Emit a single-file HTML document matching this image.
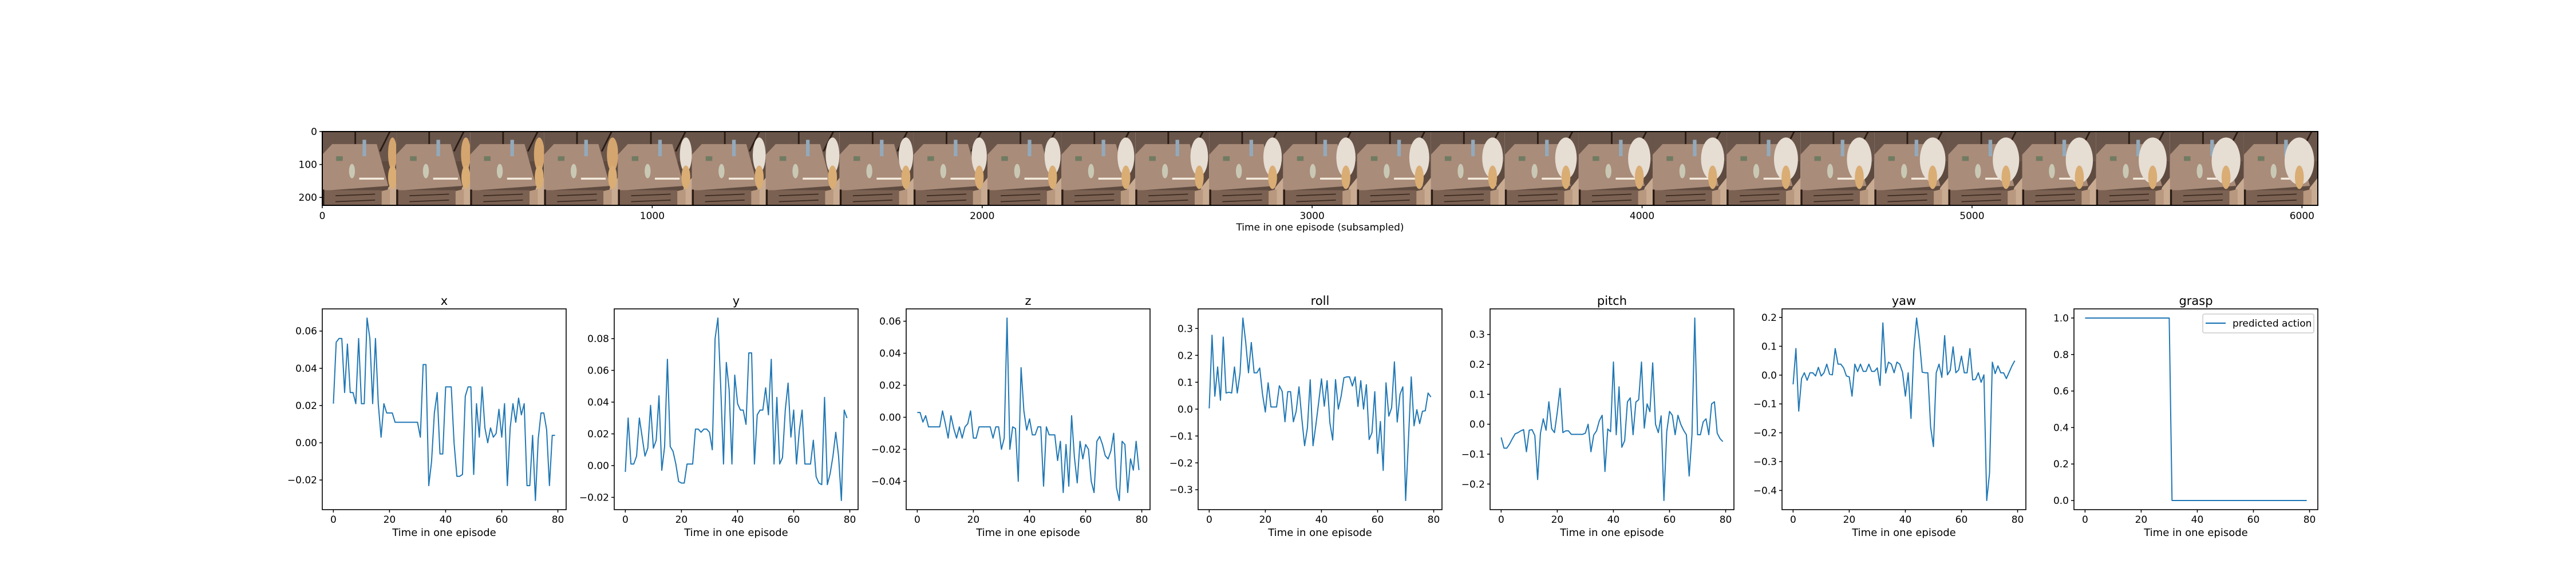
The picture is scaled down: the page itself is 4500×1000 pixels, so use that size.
<!DOCTYPE html>
<html><head><meta charset="utf-8"><style>
html,body{margin:0;padding:0;background:#fff;}
svg{display:block;font-family:"DejaVu Sans","Liberation Sans",sans-serif;}
</style></head><body>
<svg id="fig" width="4500" height="1000" viewBox="0 0 4500 1000" xmlns="http://www.w3.org/2000/svg">
<defs>
<symbol id="frame" viewBox="0 0 224 224" preserveAspectRatio="none">
<rect x="0" y="0" width="224" height="224" fill="#5e4a3f"/>
<rect x="0" y="0" width="224" height="90" fill="#6a554a"/>
<line x1="100" y1="0" x2="100" y2="60" stroke="#2a1c14" stroke-width="5"/>
<line x1="205" y1="0" x2="175" y2="60" stroke="#2a1c14" stroke-width="5"/>
<polygon points="185,224 224,224 224,140 200,170" fill="#c9ab92"/>
<polygon points="150,224 205,224 205,175 160,185" fill="#b8987e"/>
<polygon points="30,38 165,38 200,165 0,180 0,70" fill="#a98c79"/>
<rect x="0" y="178" width="180" height="46" fill="#7b6152"/>
<line x1="40" y1="195" x2="160" y2="190" stroke="#3b2a20" stroke-width="3"/>
<line x1="40" y1="213" x2="160" y2="208" stroke="#3b2a20" stroke-width="3"/>
<rect x="0" y="176" width="6" height="48" fill="#2a1c14"/>
<rect x="122" y="25" width="11" height="50" fill="#93a9bb"/>
<rect x="42" y="75" width="20" height="14" fill="#6f7b62"/>
<ellipse cx="90" cy="120" rx="9" ry="22" fill="#c9c8b4"/>
<rect x="112" y="140" width="75" height="6" fill="#f3ebde"/>
</symbol>
</defs>
<g id="strip"></g>
<g id="charts"></g>
</svg>
<script>
const steps = Array.from({length:80},(_,i)=>i);
const xVals=[0.021,0.054,0.056,0.056,0.027,0.053,0.027,0.027,0.021,0.056,0.021,0.021,0.067,0.056,0.021,0.056,0.021,0.003,0.021,0.016,0.016,0.016,0.011,0.011,0.011,0.011,0.011,0.011,0.011,0.011,0.011,0.003,0.042,0.042,-0.023,-0.010,0.016,0.027,-0.006,-0.006,0.030,0.030,0.030,0.000,-0.018,-0.018,-0.017,0.025,0.030,0.030,-0.017,0.021,0.003,0.030,0.008,0.000,0.008,0.003,0.005,0.018,0.003,0.021,-0.023,0.008,0.021,0.011,0.024,0.015,0.021,-0.023,-0.023,0.004,-0.031,0.002,0.016,0.016,0.007,-0.023,0.004,0.004];
const yVals=[-0.004,0.030,0.001,0.001,0.006,0.030,0.018,0.006,0.011,0.038,0.011,0.016,0.044,-0.003,0.012,0.067,0.012,0.009,0.001,-0.010,-0.011,-0.011,0.001,0.001,0.001,0.023,0.023,0.021,0.023,0.023,0.021,0.010,0.080,0.093,0.050,0.001,0.065,0.048,0.001,0.057,0.039,0.035,0.035,0.026,0.071,0.071,0.001,0.032,0.035,0.035,0.049,0.032,0.067,0.001,0.043,0.001,0.005,0.035,0.052,0.018,0.035,0.001,0.022,0.035,0.001,0.001,0.001,0.016,-0.007,-0.011,-0.012,0.043,-0.012,-0.005,0.006,0.021,0.006,-0.022,0.035,0.030];
const zVals=[0.003,0.003,-0.003,0.001,-0.006,-0.006,-0.006,-0.006,-0.006,0.004,-0.004,-0.013,0.001,-0.007,-0.013,-0.006,-0.013,-0.006,-0.004,0.004,-0.013,-0.013,-0.006,-0.006,-0.006,-0.006,-0.006,-0.013,-0.006,-0.006,-0.020,-0.013,0.062,-0.020,-0.006,-0.007,-0.040,0.031,0.004,-0.008,-0.001,-0.011,-0.011,-0.006,-0.006,-0.043,-0.006,-0.011,-0.011,-0.011,-0.027,-0.015,-0.047,-0.017,-0.043,0.001,-0.025,-0.041,-0.015,-0.026,-0.017,-0.020,-0.040,-0.047,-0.015,-0.012,-0.017,-0.024,-0.026,-0.021,-0.010,-0.044,-0.052,-0.015,-0.017,-0.047,-0.026,-0.033,-0.015,-0.033];
const rollVals=[0.003,0.275,0.048,0.157,0.033,0.268,0.060,0.063,0.060,0.157,0.060,0.135,0.339,0.250,0.135,0.248,0.135,0.135,0.153,0.055,-0.011,0.098,0.008,0.008,0.008,0.087,0.066,-0.047,0.065,0.065,-0.047,-0.008,0.083,-0.034,-0.136,-0.070,0.109,-0.136,-0.060,0.024,0.113,0.011,0.106,-0.051,-0.115,0.110,0.000,0.048,0.117,0.120,0.120,0.086,0.120,0.010,0.106,0.000,0.091,-0.113,-0.087,0.065,-0.165,-0.046,-0.228,0.098,-0.026,0.005,0.176,-0.048,0.055,0.083,-0.340,-0.115,0.120,-0.062,-0.002,-0.054,-0.008,-0.006,0.060,0.045];
const pitchVals=[-0.044,-0.080,-0.080,-0.066,-0.048,-0.032,-0.028,-0.022,-0.018,-0.092,-0.020,-0.018,-0.038,-0.185,-0.030,0.018,-0.020,0.075,-0.015,-0.028,0.040,0.120,-0.028,-0.022,-0.022,-0.034,-0.034,-0.034,-0.034,-0.034,-0.030,0.000,-0.092,-0.036,-0.022,0.012,0.030,-0.158,-0.016,-0.025,0.208,-0.035,0.125,-0.077,-0.055,0.075,0.088,-0.035,0.074,0.082,0.208,-0.013,0.068,0.042,0.205,0.000,-0.028,0.028,-0.255,-0.025,0.043,0.030,-0.035,0.030,0.000,-0.020,-0.035,-0.173,-0.035,0.355,-0.035,-0.035,0.008,0.018,-0.035,0.068,0.075,-0.030,-0.048,-0.058];
const yawVals=[-0.032,0.092,-0.125,-0.012,0.008,-0.018,0.008,0.008,-0.003,0.027,-0.003,0.008,0.038,0.003,0.001,0.092,0.038,0.038,0.025,-0.003,-0.006,-0.073,0.038,0.012,0.038,0.013,0.013,0.038,0.013,0.013,0.025,-0.036,0.181,0.007,0.045,0.038,0.008,0.045,0.038,0.010,-0.073,0.008,-0.150,0.085,0.198,0.120,0.010,0.008,0.008,-0.180,-0.248,0.008,0.038,-0.008,0.137,0.001,0.017,0.098,0.008,0.018,0.066,0.008,0.008,0.092,-0.017,-0.015,0.008,-0.025,0.001,-0.435,-0.340,0.045,0.005,0.032,0.008,0.008,-0.012,0.010,0.032,0.050];
const graspVals=[1,1,1,1,1,1,1,1,1,1,1,1,1,1,1,1,1,1,1,1,1,1,1,1,1,1,1,1,1,1,1,0,0,0,0,0,0,0,0,0,0,0,0,0,0,0,0,0,0,0,0,0,0,0,0,0,0,0,0,0,0,0,0,0,0,0,0,0,0,0,0,0,0,0,0,0,0,0,0,0];
const panelTitles=["x","y","z","roll","pitch","yaw","grasp"];
const xTicks=[0,20,40,60,80];
const xTickVals=[-0.02,0.00,0.02,0.04,0.06];
const yTickVals=[-0.02,0.00,0.02,0.04,0.06,0.08];
const zTickVals=[-0.04,-0.02,0.00,0.02,0.04,0.06];
const rollTickVals=[-0.3,-0.2,-0.1,0.0,0.1,0.2,0.3];
const pitchTickVals=[-0.2,-0.1,0.0,0.1,0.2,0.3];
const yawTickVals=[-0.4,-0.3,-0.2,-0.1,0.0,0.1,0.2];
const graspTickVals=[0.0,0.2,0.4,0.6,0.8,1.0];
const stripXTicks=[0,1000,2000,3000,4000,5000,6000];
const stripYTicks=[0,100,200];
const stripFrames=27;

const NS="http://www.w3.org/2000/svg";
function mk(tag,attrs,parent){const e=document.createElementNS(NS,tag);for(const k in attrs)e.setAttribute(k,attrs[k]);parent.appendChild(e);return e;}
const FS=17;

// image strip
const strip=document.getElementById('strip');
const sL=563,sT=230,fW=3486/stripFrames,sH=129;
const sx=v=>sL+v*(3486/6048);
const sy=v=>sT+v*(sH/224);
for(let i=0;i<stripFrames;i++){
  const u=mk('use',{href:'#frame',x:sL+i*fW,y:sT,width:fW,height:sH},strip);
  
  
  const t=i/(stripFrames-1);
  const arm=mk('ellipse',{cx:sL+i*fW+fW*(0.95-0.2*t),cy:sT+sH*(0.3+0.1*t),rx:fW*(0.06+0.14*t),ry:sH*(0.22+0.1*t),fill:t<0.12?'#d4a56e':'#e6ddd3'},strip);
  
  
  const fore=mk('ellipse',{cx:sL+i*fW+fW*(0.95-0.2*t),cy:sT+sH*(0.62),rx:fW*0.06,ry:sH*0.16,fill:'#d9ad74'},strip);
  
  
}
mk('rect',{x:sL,y:sT,width:3486,height:sH,fill:'none',stroke:'#000','stroke-width':2},strip);
stripXTicks.forEach(v=>{
  mk('line',{x1:sx(v),x2:sx(v),y1:sT+sH,y2:sT+sH+5,stroke:'#000','stroke-width':1.5},strip);
  const t=mk('text',{x:sx(v),y:sT+sH+24,'font-size':FS,'text-anchor':'middle'},strip);t.textContent=v;
  
  
});
stripYTicks.forEach(v=>{
  mk('line',{x1:sL-5,x2:sL,y1:sy(v),y2:sy(v),stroke:'#000','stroke-width':1.5},strip);
  const t=mk('text',{x:sL-9,y:sy(v)+6,'font-size':FS,'text-anchor':'end'},strip);t.textContent=v;
  
  
});
const sl=mk('text',{x:sL+3486/2,y:403,'font-size':FS,'text-anchor':'middle'},strip);
sl.textContent='Time in one episode (subsampled)';



// charts
const charts=document.getElementById('charts');
const seriesList=[xVals,yVals,zVals,rollVals,pitchVals,yawVals,graspVals];
const tickList=[xTickVals,yTickVals,zTickVals,rollTickVals,pitchTickVals,yawTickVals,graspTickVals];
const decimals=[2,2,2,1,1,1,1];
const pT=540,pB=891,pW=426;
seriesList.forEach((vals,k)=>{
  const L=563+k*510;
  const g=mk('g',{},charts);
  
  
  const mn=Math.min(...vals),mx=Math.max(...vals),pad=(mx-mn)*0.05;
  const y0=mn-pad,y1=mx+pad;
  const x0=-0.05*79,x1=79*1.05;
  const X=v=>L+(v-x0)/(x1-x0)*pW;
  const Y=v=>pB-(v-y0)/(y1-y0)*(pB-pT);
  const pts=vals.map((v,i)=>X(steps[i]).toFixed(1)+','+Y(v).toFixed(1)).join(' ');
  const line=mk('polyline',{points:pts,fill:'none',stroke:'#1f77b4','stroke-width':2,'stroke-linejoin':'round'},g);
  
  
  mk('rect',{x:L,y:pT,width:pW,height:pB-pT,fill:'none',stroke:'#000','stroke-width':1.6},g);
  xTicks.forEach(v=>{
    mk('line',{x1:X(v),x2:X(v),y1:pB,y2:pB+5,stroke:'#000','stroke-width':1.5},g);
    const t=mk('text',{x:X(v),y:pB+23,'font-size':FS,'text-anchor':'middle'},g);t.textContent=v;
    
    
  });
  tickList[k].forEach(v=>{
    mk('line',{x1:L-5,x2:L,y1:Y(v),y2:Y(v),stroke:'#000','stroke-width':1.5},g);
    const t=mk('text',{x:L-9,y:Y(v)+6,'font-size':FS,'text-anchor':'end'},g);
    t.textContent=v.toFixed(decimals[k]).replace('-','\u2212');
    
    
  });
  const xl=mk('text',{x:L+pW/2,y:937,'font-size':18,'text-anchor':'middle'},g);xl.textContent='Time in one episode';
  
  
  const tt=mk('text',{x:L+pW/2,y:533,'font-size':21,'text-anchor':'middle'},g);tt.textContent=panelTitles[k];
  
  
  if(k===6){
    const lg=mk('g',{},g);
    
    
    mk('rect',{x:3848,y:549,width:194,height:33,rx:3,fill:'#fff',stroke:'#ccc','stroke-width':1.5},lg);
    mk('line',{x1:3853,x2:3888,y1:565,y2:565,stroke:'#1f77b4','stroke-width':2.2},lg);
    const lt=mk('text',{x:3900,y:571,'font-size':FS},lg);lt.textContent='predicted action';
    
    
  }
});
</script>
</body></html>
